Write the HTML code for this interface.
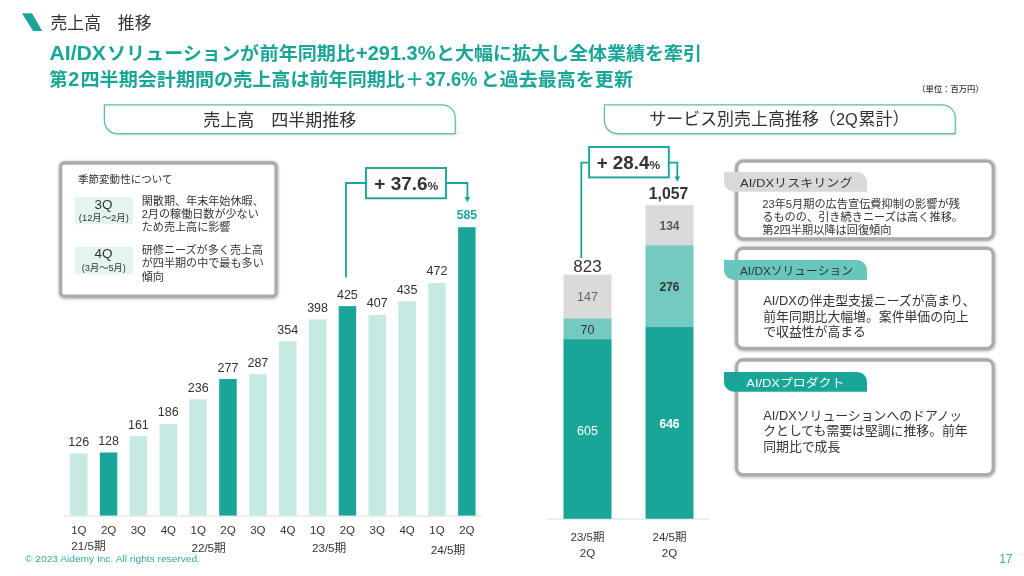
<!DOCTYPE html>
<html lang="ja"><head><meta charset="utf-8"><title>売上高 推移</title>
<style>
html,body{margin:0;padding:0;background:#fff;}
body{width:1024px;height:576px;overflow:hidden;font-family:"Liberation Sans","Noto Sans CJK JP",sans-serif;}
svg{display:block;}
text{font-family:"Liberation Sans","Noto Sans CJK JP",sans-serif;fill:#333;}
.b{font-weight:bold;}
.t{fill:#19a699;}
.m{text-anchor:middle;}
</style></head><body>
<svg width="1024" height="576" viewBox="0 0 1024 576">
<defs>
<filter id="sh" x="-5%" y="-5%" width="110%" height="115%"><feGaussianBlur stdDeviation="1.5"/></filter>
</defs>

<polygon points="22,13.3 32,13.3 42.2,31 33,31" fill="#19a699"/>
<text x="50.5" y="29" font-size="16.8" textLength="101" lengthAdjust="spacingAndGlyphs">売上高　推移</text>
<text class="b t" x="49.5" y="60.4" font-size="19.5" textLength="56.5" lengthAdjust="spacingAndGlyphs">AI/DX</text>
<text class="b t" x="107" y="60.4" font-size="18.4" textLength="152" lengthAdjust="spacingAndGlyphs">ソリューションが</text>
<text class="b t" x="259.6" y="60.4" font-size="18.4" textLength="95.4" lengthAdjust="spacingAndGlyphs">前年同期比</text>
<text class="b t" x="356" y="60.4" font-size="19.5" textLength="79.5" lengthAdjust="spacingAndGlyphs">+291.3%</text>
<text class="b t" x="436" y="60.4" font-size="18.4" textLength="266" lengthAdjust="spacingAndGlyphs">と大幅に拡大し全体業績を牽引</text>
<text class="b t" x="49.2" y="86.1" font-size="18.4" textLength="18.3" lengthAdjust="spacingAndGlyphs">第</text>
<text class="b t" x="68.3" y="86.1" font-size="19.5" textLength="11" lengthAdjust="spacingAndGlyphs">2</text>
<text class="b t" x="80.5" y="86.1" font-size="18.4" textLength="343.5" lengthAdjust="spacingAndGlyphs">四半期会計期間の売上高は前年同期比＋</text>
<text class="b t" x="425.4" y="86.1" font-size="19.5" textLength="52" lengthAdjust="spacingAndGlyphs">37.6%</text>
<text class="b t" x="480.5" y="86.1" font-size="18.4" textLength="152.5" lengthAdjust="spacingAndGlyphs">と過去最高を更新</text>
<text x="917.3" y="91.5" font-size="8" font-weight="500" textLength="66.4" lengthAdjust="spacingAndGlyphs">（単位：百万円）</text>
<path d="M104.4,104.8 H442.2 A13,13 0 0 1 455.2,117.8 V133.6 H117.4 A13,13 0 0 1 104.4,120.6 Z" transform="translate(0.5,1.5)" fill="#000" opacity="0.18" filter="url(#sh)"/>
<path d="M104.4,104.8 H442.2 A13,13 0 0 1 455.2,117.8 V133.6 H117.4 A13,13 0 0 1 104.4,120.6 Z" fill="#fff" stroke="#5cbcb1" stroke-width="1.2"/>
<text class="m" x="279.8" y="125.6" font-size="17" textLength="153" lengthAdjust="spacingAndGlyphs">売上高　四半期推移</text>
<path d="M604.4,104.8 H942.2 A13,13 0 0 1 955.2,117.8 V133.6 H617.4 A13,13 0 0 1 604.4,120.6 Z" transform="translate(0.5,1.5)" fill="#000" opacity="0.18" filter="url(#sh)"/>
<path d="M604.4,104.8 H942.2 A13,13 0 0 1 955.2,117.8 V133.6 H617.4 A13,13 0 0 1 604.4,120.6 Z" fill="#fff" stroke="#5cbcb1" stroke-width="1.2"/>
<text x="649.3" y="125.3" font-size="17" textLength="186.5" lengthAdjust="spacingAndGlyphs">サービス別売上高推移（</text>
<text x="836" y="125.3" font-size="16.6" textLength="21.8" lengthAdjust="spacingAndGlyphs">2Q</text>
<text x="858.5" y="125.3" font-size="17" textLength="51" lengthAdjust="spacingAndGlyphs">累計）</text>
<line x1="64" y1="516.1" x2="482" y2="516.1" stroke="#dedede" stroke-width="1"/>
<rect x="70.0" y="453.5" width="17.5" height="62.1" fill="#c7e9e4"/>
<text class="m" x="78.8" y="446.0" font-size="12.3" textLength="20.9" lengthAdjust="spacingAndGlyphs">126</text>
<text class="m" x="78.8" y="534.3" font-size="11.5">1Q</text>
<rect x="99.8" y="452.5" width="17.5" height="63.1" fill="#19a699"/>
<text class="m" x="108.6" y="445.0" font-size="12.3" textLength="20.9" lengthAdjust="spacingAndGlyphs">128</text>
<text class="m" x="108.6" y="534.3" font-size="11.5">2Q</text>
<rect x="129.7" y="436.2" width="17.5" height="79.4" fill="#c7e9e4"/>
<text class="m" x="138.4" y="428.7" font-size="12.3" textLength="20.9" lengthAdjust="spacingAndGlyphs">161</text>
<text class="m" x="138.4" y="534.3" font-size="11.5">3Q</text>
<rect x="159.6" y="423.9" width="17.5" height="91.7" fill="#c7e9e4"/>
<text class="m" x="168.3" y="416.4" font-size="12.3" textLength="20.9" lengthAdjust="spacingAndGlyphs">186</text>
<text class="m" x="168.3" y="534.3" font-size="11.5">4Q</text>
<rect x="189.4" y="399.3" width="17.5" height="116.3" fill="#c7e9e4"/>
<text class="m" x="198.2" y="391.8" font-size="12.3" textLength="20.9" lengthAdjust="spacingAndGlyphs">236</text>
<text class="m" x="198.2" y="534.3" font-size="11.5">1Q</text>
<rect x="219.2" y="379.0" width="17.5" height="136.6" fill="#19a699"/>
<text class="m" x="228.0" y="371.5" font-size="12.3" textLength="20.9" lengthAdjust="spacingAndGlyphs">277</text>
<text class="m" x="228.0" y="534.3" font-size="11.5">2Q</text>
<rect x="249.1" y="374.1" width="17.5" height="141.5" fill="#c7e9e4"/>
<text class="m" x="257.9" y="366.6" font-size="12.3" textLength="20.9" lengthAdjust="spacingAndGlyphs">287</text>
<text class="m" x="257.9" y="534.3" font-size="11.5">3Q</text>
<rect x="279.0" y="341.1" width="17.5" height="174.5" fill="#c7e9e4"/>
<text class="m" x="287.7" y="333.6" font-size="12.3" textLength="20.9" lengthAdjust="spacingAndGlyphs">354</text>
<text class="m" x="287.7" y="534.3" font-size="11.5">4Q</text>
<rect x="308.8" y="319.4" width="17.5" height="196.2" fill="#c7e9e4"/>
<text class="m" x="317.6" y="311.9" font-size="12.3" textLength="20.9" lengthAdjust="spacingAndGlyphs">398</text>
<text class="m" x="317.6" y="534.3" font-size="11.5">1Q</text>
<rect x="338.7" y="306.1" width="17.5" height="209.5" fill="#19a699"/>
<text class="m" x="347.4" y="298.6" font-size="12.3" textLength="20.9" lengthAdjust="spacingAndGlyphs">425</text>
<text class="m" x="347.4" y="534.3" font-size="11.5">2Q</text>
<rect x="368.5" y="314.9" width="17.5" height="200.7" fill="#c7e9e4"/>
<text class="m" x="377.2" y="307.4" font-size="12.3" textLength="20.9" lengthAdjust="spacingAndGlyphs">407</text>
<text class="m" x="377.2" y="534.3" font-size="11.5">3Q</text>
<rect x="398.4" y="301.1" width="17.5" height="214.5" fill="#c7e9e4"/>
<text class="m" x="407.1" y="293.6" font-size="12.3" textLength="20.9" lengthAdjust="spacingAndGlyphs">435</text>
<text class="m" x="407.1" y="534.3" font-size="11.5">4Q</text>
<rect x="428.2" y="282.9" width="17.5" height="232.7" fill="#c7e9e4"/>
<text class="m" x="437.0" y="275.4" font-size="12.3" textLength="20.9" lengthAdjust="spacingAndGlyphs">472</text>
<text class="m" x="437.0" y="534.3" font-size="11.5">1Q</text>
<rect x="458.1" y="227.2" width="17.5" height="288.4" fill="#19a699"/>
<text class="m b t" x="466.8" y="219.2" font-size="12.2">585</text>
<text class="m" x="466.8" y="534.3" font-size="11.5">2Q</text>
<text x="71.2" y="550.3" font-size="11.4" textLength="34.4" lengthAdjust="spacingAndGlyphs">21/5期</text>
<text x="191.4" y="551.5" font-size="11.4" textLength="34.4" lengthAdjust="spacingAndGlyphs">22/5期</text>
<text x="311.9" y="552.2" font-size="11.4" textLength="34.4" lengthAdjust="spacingAndGlyphs">23/5期</text>
<text x="430.7" y="553.6" font-size="11.4" textLength="34.4" lengthAdjust="spacingAndGlyphs">24/5期</text>
<path d="M366,183 H346 V277.5" fill="none" stroke="#19a699" stroke-width="1.8"/>
<path d="M446,183 H467.4 V197.5" fill="none" stroke="#19a699" stroke-width="1.8"/>
<polygon points="464.5,197 470.3,197 467.4,202.3" fill="#19a699"/>
<rect x="366" y="168" width="80" height="30.3" fill="#fff" stroke="#19a699" stroke-width="1.9"/>
<text class="b" x="374.3" y="189.8" font-size="18" textLength="64" lengthAdjust="spacingAndGlyphs">+ 37.6<tspan font-size="11.5">%</tspan></text>
<rect x="60.9" y="163.6" width="215.3" height="133.2" rx="3.5" fill="none" stroke="#000" stroke-width="4.2" opacity="0.3" filter="url(#sh)"/>
<rect x="60.7" y="163" width="215.3" height="133.2" rx="3.5" fill="#fff" stroke="#acacac" stroke-width="3.3"/>
<text x="78" y="183.1" font-size="10.5" textLength="94.5" lengthAdjust="spacingAndGlyphs">季節変動性について</text>
<rect x="74.7" y="197" width="58.3" height="27.4" fill="#e4f4f0"/>
<text class="m" x="103.6" y="208.6" font-size="12.8" textLength="18" lengthAdjust="spacingAndGlyphs">3Q</text>
<text class="m" x="103.8" y="221.3" font-size="8.8" textLength="50" lengthAdjust="spacingAndGlyphs">(12月～2月)</text>
<text x="141.7" y="204.6" font-size="11.1">閑散期、年末年始休暇、</text>
<text x="141.7" y="217.6" font-size="11.1">2月の稼働日数が少ない</text>
<text x="141.7" y="230.6" font-size="11.1">ため売上高に影響</text>
<rect x="74.7" y="247" width="58.3" height="27.4" fill="#e4f4f0"/>
<text class="m" x="103.6" y="258.2" font-size="12.8" textLength="18" lengthAdjust="spacingAndGlyphs">4Q</text>
<text class="m" x="103.8" y="270.8" font-size="8.8" textLength="44" lengthAdjust="spacingAndGlyphs">(3月～5月)</text>
<text x="141.7" y="254.0" font-size="11.1">研修ニーズが多く売上高</text>
<text x="141.7" y="267.4" font-size="11.1">が四半期の中で最も多い</text>
<text x="141.7" y="280.8" font-size="11.1">傾向</text>
<line x1="547" y1="519.1" x2="710" y2="519.1" stroke="#dedede" stroke-width="1"/>
<rect x="563.5" y="339.0" width="48" height="179.8" fill="#19a699"/>
<rect x="563.5" y="318.2" width="48" height="21.1" fill="#74cac0"/>
<rect x="563.5" y="274.6" width="48" height="43.9" fill="#dadada"/>
<rect x="645.5" y="326.8" width="48" height="192.0" fill="#19a699"/>
<rect x="645.5" y="244.9" width="48" height="82.2" fill="#74cac0"/>
<rect x="645.5" y="205.2" width="48" height="40.1" fill="#dadada"/>
<text class="m" x="587.5" y="434.7" font-size="12.5" style="fill:#fff">605</text>
<text class="m" x="587.5" y="333.8" font-size="12.5">70</text>
<text class="m" x="587.5" y="301.4" font-size="12.5" style="fill:#666">147</text>
<text class="m" x="587.5" y="272" font-size="17">823</text>
<text class="m b" x="669.5" y="428.0" font-size="12" style="fill:#fff">646</text>
<text class="m b" x="669.5" y="290.9" font-size="12">276</text>
<text class="m b" x="669.5" y="229.7" font-size="12" style="fill:#595959">134</text>
<text class="m b" x="668.5" y="198.5" font-size="15.8">1,057</text>
<text class="m" x="587.5" y="540.5" font-size="11.5">23/5期</text>
<text class="m" x="587.5" y="557" font-size="11.5">2Q</text>
<text class="m" x="669.5" y="540.5" font-size="11.5">24/5期</text>
<text class="m" x="669.5" y="557" font-size="11.5">2Q</text>
<path d="M589.1,162.6 H581.3 V258" fill="none" stroke="#19a699" stroke-width="1.8"/>
<path d="M668.8,162.6 H677.3 V177" fill="none" stroke="#19a699" stroke-width="1.8"/>
<polygon points="674.4,176.5 680.2,176.5 677.3,181.8" fill="#19a699"/>
<rect x="589.1" y="147" width="79.7" height="30.4" fill="#fff" stroke="#19a699" stroke-width="1.9"/>
<text class="b" x="596.7" y="169.3" font-size="18" textLength="63.4" lengthAdjust="spacingAndGlyphs">+ 28.4<tspan font-size="11.5">%</tspan></text>
<rect x="736.9" y="161.79999999999998" width="256.5" height="77.70000000000002" rx="6.5" fill="none" stroke="#000" stroke-width="4.2" opacity="0.3" filter="url(#sh)"/>
<rect x="736.7" y="161.2" width="256.5" height="77.70000000000002" rx="6.5" fill="#fff" stroke="#acacac" stroke-width="3.3"/>
<path d="M724,172.1 H857 A10,10 0 0 1 867,182.1 V191.7 H734 A10,10 0 0 1 724,181.7 Z" fill="#d9d9d9"/>
<text x="740" y="186.7" font-size="11.7" textLength="112.5" lengthAdjust="spacingAndGlyphs" style="fill:#333">AI/DXリスキリング</text>
<text x="762.2" y="207.9" font-size="11.2">23年5月期の広告宣伝費抑制の影響が残</text>
<text x="762.2" y="221.0" font-size="11.2">るものの、引き続きニーズは高く推移。</text>
<text x="762.2" y="234.1" font-size="11.2">第2四半期以降は回復傾向</text>
<rect x="736.9" y="248.9" width="256.5" height="100.19999999999999" rx="6.5" fill="none" stroke="#000" stroke-width="4.2" opacity="0.3" filter="url(#sh)"/>
<rect x="736.7" y="248.3" width="256.5" height="100.19999999999999" rx="6.5" fill="#fff" stroke="#acacac" stroke-width="3.3"/>
<path d="M724,260.1 H857 A10,10 0 0 1 867,270.1 V279.9 H734 A10,10 0 0 1 724,269.9 Z" fill="#68c7bd"/>
<text x="740" y="274.8" font-size="11.7" textLength="113" lengthAdjust="spacingAndGlyphs" style="fill:#333">AI/DXソリューション</text>
<text x="763.2" y="305.3" font-size="12.85">AI/DXの伴走型支援ニーズが高まり、</text>
<text x="763.2" y="320.5" font-size="12.85">前年同期比大幅増。案件単価の向上</text>
<text x="763.2" y="335.7" font-size="12.85">で収益性が高まる</text>
<rect x="736.9" y="360.6" width="256.5" height="114.69999999999999" rx="6.5" fill="none" stroke="#000" stroke-width="4.2" opacity="0.3" filter="url(#sh)"/>
<rect x="736.7" y="360" width="256.5" height="114.69999999999999" rx="6.5" fill="#fff" stroke="#acacac" stroke-width="3.3"/>
<path d="M724,371.9 H857 A10,10 0 0 1 867,381.9 V391.8 H734 A10,10 0 0 1 724,381.8 Z" fill="#19a699"/>
<text x="746.3" y="386.7" font-size="11.7" textLength="98" lengthAdjust="spacingAndGlyphs" style="fill:#fff">AI/DXプロダクト</text>
<text x="763.2" y="420.0" font-size="12.85">AI/DXソリューションへのドアノッ</text>
<text x="763.2" y="435.4" font-size="12.85">クとしても需要は堅調に推移。前年</text>
<text x="763.2" y="450.8" font-size="12.85">同期比で成長</text>
<text x="25" y="562.4" font-size="9.4" style="fill:#2fab9e" textLength="175" lengthAdjust="spacingAndGlyphs">© 2023 Aidemy Inc. All rights reserved.</text>
<text x="999.2" y="562.7" font-size="12" style="fill:#3aafa2">17</text>
</svg></body></html>
